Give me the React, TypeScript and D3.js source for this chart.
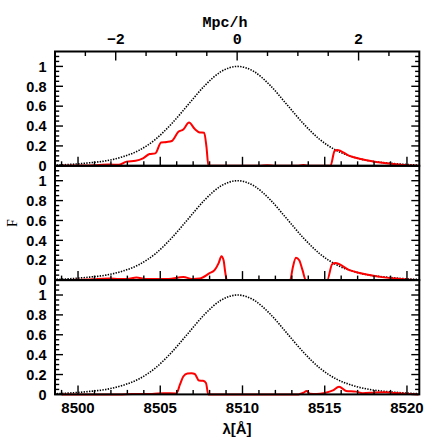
import React from 'react';
import * as d3 from 'd3';

const width = 443;
const height = 443;
const plotLeft = 55;
const plotRight = 419.3;
const plotTop = 51.5;
const plotBottom = 394.4;
const panelH = (plotBottom - plotTop) / 3;

// x positions (wavelength, Angstrom) of the envelope samples
const envLambda = [
  8498.7, 8499.7, 8500.7, 8501.7, 8502.7, 8503.7, 8504.7, 8505.7, 8506.7, 8507.7, 8508.7,
  8509.7, 8510.7, 8511.7, 8512.7, 8513.7, 8514.7, 8515.7, 8516.7, 8517.7, 8518.7, 8519.7, 8520.7,
];
// dotted envelope (same in every panel)
const envFlux = [
  0.007, 0.016, 0.03, 0.05, 0.09, 0.155, 0.265, 0.425, 0.616, 0.806, 0.948,
  1.0, 0.948, 0.806, 0.616, 0.425, 0.265, 0.155, 0.09, 0.05, 0.03, 0.016, 0.007,
];

// red spectra, one per panel
const topLambda = [
  8499.0, 8500.5, 8501.3, 8501.9, 8502.5, 8502.95, 8503.5, 8503.95, 8504.35, 8504.7, 8505.05,
  8505.4, 8505.7, 8506.1, 8506.4, 8506.75, 8507.1, 8507.4, 8507.67, 8507.81, 8507.93,
  8511.0, 8511.5, 8512.0, 8513.3, 8513.7, 8514.1, 8515.35, 8515.6, 8515.75,
  8516.5, 8517.2, 8517.8, 8518.5, 8519.3, 8520.0, 8520.7,
];
const topFlux = [
  0, 0.002, 0.008, 0.012, 0.01, 0.042, 0.05, 0.075, 0.118, 0.125, 0.235,
  0.24, 0.25, 0.342, 0.365, 0.435, 0.37, 0.336, 0.333, 0.19, 0,
  0, 0.005, 0, 0, 0.008, 0, 0, 0.15, 0.16,
  0.1, 0.068, 0.048, 0.03, 0.015, 0.006, 0,
];

const midLambda = [
  8499.0, 8500.5, 8501.2, 8501.9, 8502.5, 8503.0, 8503.55, 8504.1, 8505.5, 8506.4, 8507.0,
  8507.4, 8508.0, 8508.3, 8508.55, 8508.72, 8508.85, 8508.95, 8509.05,
  8512.9, 8513.05, 8513.25, 8513.45, 8513.65, 8513.85,
  8515.15, 8515.45, 8515.65, 8516.5, 8517.2, 8517.8, 8518.5, 8519.3, 8520.0, 8520.7,
];
const midFlux = [
  0, 0.005, 0.012, 0.015, 0.01, 0.01, 0.027, 0.012, 0.012, 0.03, 0.01,
  0.015, 0.07, 0.1, 0.17, 0.24, 0.2, 0.08, 0,
  0, 0.12, 0.225, 0.2, 0.1, 0,
  0, 0.16, 0.172, 0.1, 0.068, 0.048, 0.03, 0.015, 0.006, 0,
];

const botLambda = [
  8499.0, 8502.5, 8503.3, 8504.5, 8505.2, 8505.98, 8506.2, 8506.4, 8506.65, 8506.9, 8507.1,
  8507.35, 8507.6, 8507.78, 8507.92,
  8513.4, 8513.7, 8513.9, 8514.1, 8514.5, 8515.0, 8515.5, 8515.87, 8516.3, 8516.9, 8517.3,
  8518.1, 8518.7, 8519.3, 8520.0, 8520.7,
];
const botFlux = [
  0, 0, 0.005, 0.005, 0.012, 0.01, 0.1, 0.18, 0.21, 0.212, 0.205,
  0.14, 0.137, 0.115, 0,
  0, 0.017, 0.033, 0.007, 0.005, 0.015, 0.04, 0.077, 0.035, 0.028, 0.012,
  0.02, 0.022, 0.013, 0.006, 0,
];

const panels = [
  {lambda: topLambda, flux: topFlux},
  {lambda: midLambda, flux: midFlux},
  {lambda: botLambda, flux: botFlux},
];

const xMajor = [8500, 8505, 8510, 8515, 8520];
const yMajor = [0, 0.2, 0.4, 0.6, 0.8, 1];
const yLabels = ['0', '0.2', '0.4', '0.6', '0.8', '1'];
const topMajor = [-2, 0, 2];
const topLabels = ['\u22122', '0', '2'];

const sans = '"Liberation Sans", Arial, sans-serif';
const mono = '"Liberation Mono", "Courier New", monospace';

export default function App() {
  const x = d3.scaleLinear().domain([8498.6, 8520.75]).range([plotLeft, plotRight]);
  const xTop = d3.scaleLinear().domain([-3, 3]).range([plotLeft, plotRight]);
  const xMinor = d3.range(8499, 8521, 1);
  const yMinor = d3.range(0, 1.14, 0.05);
  const topMinor = d3.range(-2.5, 3, 0.5);

  return (
    <svg width={width} height={height} style={{position: 'absolute', left: 0, top: 0, background: '#fff'}}>
      {panels.map((p, i) => {
        const y0 = plotTop + i * panelH;
        const y = d3.scaleLinear().domain([0, 1.15]).range([y0 + panelH, y0]);
        const env = d3.line<number>()
          .x((_, j) => x(envLambda[j]))
          .y(d => y(d))
          .curve(d3.curveMonotoneX);
        const spec = d3.line<number>()
          .x((_, j) => x(p.lambda[j]))
          .y(d => y(d))
          .curve(d3.curveMonotoneX);
        return (
          <g key={i}>
            <path d={env(envFlux) || ''} fill="none" stroke="#000" strokeWidth={1.6} strokeDasharray="1.4 1.3"/>
            <path d={spec(p.flux) || ''} fill="none" stroke="#ff0000" strokeWidth={2}/>
            {/* bottom ticks, pointing up */}
            {xMinor.map(v => {
              const big = xMajor.includes(v);
              return <line key={'bx' + v} x1={x(v)} x2={x(v)} y1={y(0)} y2={y(0) - (big ? 9 : 4.5)}
                           stroke="#000" strokeWidth={1.4}/>;
            })}
            {/* left and right ticks */}
            {yMinor.map(v => {
              const big = yMajor.some(m => Math.abs(m - v) < 1e-6);
              const len = big ? 8 : 4.2;
              return (
                <g key={'y' + v}>
                  <line x1={plotLeft} x2={plotLeft + len} y1={y(v)} y2={y(v)} stroke="#000" strokeWidth={1.4}/>
                  <line x1={plotRight} x2={plotRight - len} y1={y(v)} y2={y(v)} stroke="#000" strokeWidth={1.4}/>
                </g>
              );
            })}
            {yMajor.map((v, k) => (
              <text key={'yl' + v} x={46.5} y={y(v)} dy="0.36em" textAnchor="end"
                    fontFamily={sans} fontWeight="bold" fontSize={14.5}>{yLabels[k]}</text>
            ))}
            <rect x={plotLeft} y={y0} width={plotRight - plotLeft} height={panelH}
                  fill="none" stroke="#000" strokeWidth={2}/>
          </g>
        );
      })}
      {/* top axis in Mpc/h */}
      {topMinor.map(v => {
        const big = topMajor.includes(v);
        return <line key={'t' + v} x1={xTop(v)} x2={xTop(v)} y1={plotTop} y2={plotTop + (big ? 9 : 4.5)}
                     stroke="#000" strokeWidth={1.4}/>;
      })}
      {topMajor.map((v, k) => (
        <text key={'tl' + v} x={xTop(v)} y={44} textAnchor="middle"
              fontFamily={mono} fontWeight="bold" fontSize={15}>{topLabels[k]}</text>
      ))}
      <text x={225} y={27} textAnchor="middle" fontFamily={mono} fontWeight="bold" fontSize={15}>Mpc/h</text>
      {xMajor.map(v => (
        <text key={'xl' + v} x={x(v)} y={413} textAnchor="middle"
              fontFamily={sans} fontWeight="bold" fontSize={15}>{v}</text>
      ))}
      <text x={237} y={434} textAnchor="middle" fontFamily={sans} fontWeight="bold" fontSize={15}>λ[Å]</text>
      <text transform="translate(17,223) rotate(-90)" textAnchor="middle"
            fontFamily='"Liberation Serif", "Times New Roman", serif' fontSize={14}>F</text>
    </svg>
  );
}
